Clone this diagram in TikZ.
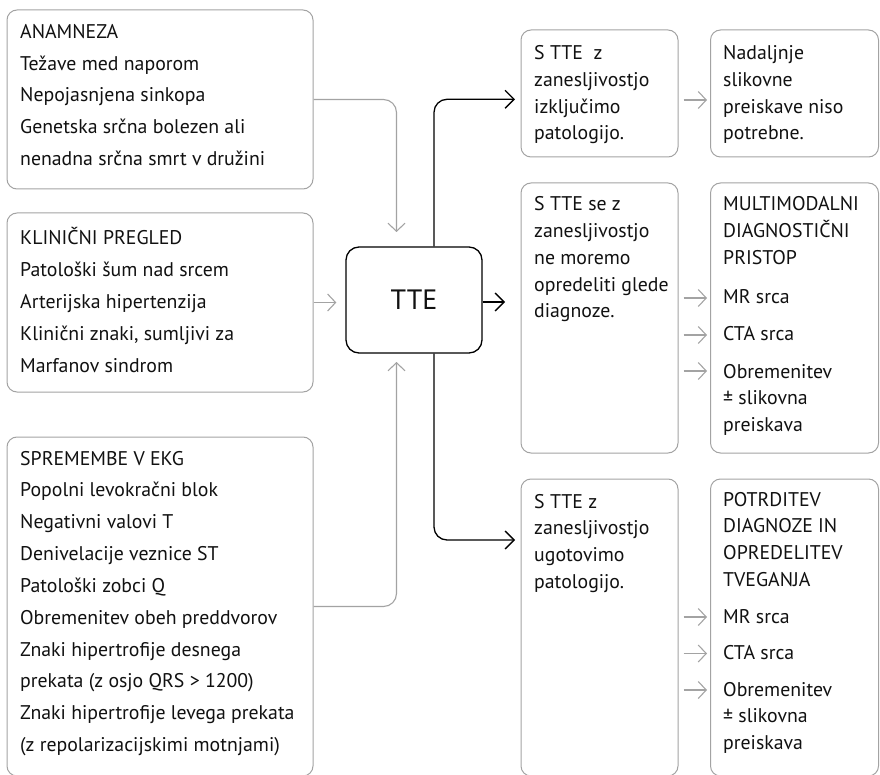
\documentclass[tikz,border=0pt]{standalone}
\usepackage{fontspec}
\setmainfont{PT Sans}
\usetikzlibrary{arrows.meta,calc}
\definecolor{lg}{HTML}{A3A3A3}
\definecolor{tx}{HTML}{111111}
\begin{document}
\begin{tikzpicture}[x=1pt,y=-1pt,
  box/.style={draw=lg, line width=1pt, rounded corners=10pt, fill=white, inner sep=0pt},
  tbox/.style={draw=black, line width=1.3pt, rounded corners=13pt, fill=white, inner sep=0pt, text=tx, font=\fontsize{28}{30}\selectfont},
  txt/.style={anchor=base west, inner sep=0pt, text=tx, font=\fontsize{19.8}{22}\selectfont},
  garrow/.style={draw=lg, line width=1.1pt, -{Straight Barb[length=8pt,width=17pt]}},
  barrow/.style={draw=black, line width=1.3pt, -{Straight Barb[length=9pt,width=18pt]}}]
\useasboundingbox (0,0) rectangle (880,775);
\clip (0,0) rectangle (880,775);

% left boxes
\node[box, minimum width=306pt, minimum height=179pt] (anam) at (160,99.5) {};
\node[box, minimum width=306pt, minimum height=179pt] (klin) at (160,302.5) {};
\node[box, minimum width=306pt, minimum height=339pt] (ekg) at (160,606.5) {};

% TTE
\node[tbox, minimum width=136pt, minimum height=106pt] (tte) at (414,300) {TTE};

% right boxes
\node[box, minimum width=157pt, minimum height=127pt] (a) at (599.5,93.5) {};
\node[box, minimum width=168pt, minimum height=127pt] (b) at (794.5,93.5) {};
\node[box, minimum width=157pt, minimum height=270pt] (c) at (599.5,318) {};
\node[box, minimum width=168pt, minimum height=270pt] (d) at (794.5,318) {};
\node[box, minimum width=157pt, minimum height=297pt] (e) at (599.5,627.5) {};
\node[box, minimum width=168pt, minimum height=297pt] (f) at (794.5,627.5) {};

% left texts
\foreach \t [count=\i from 0] in {ANAMNEZA, Težave med naporom, Nepojasnjena sinkopa, Genetska srčna bolezen ali, nenadna srčna smrt v družini}
  \node[txt] (anam-\i) at (20,{38.3+31.75*\i}) {\t};
\foreach \t [count=\i from 0] in {KLINIČNI PREGLED, Patološki šum nad srcem, Arterijska hipertenzija, {Klinični znaki, sumljivi za}, Marfanov sindrom}
  \node[txt] (klin-\i) at (20,{245+31.75*\i}) {\t};
\foreach \t [count=\i from 0] in {SPREMEMBE V EKG, Popolni levokračni blok, Negativni valovi T, Denivelacije veznice ST, Patološki zobci Q, Obremenitev obeh preddvorov, Znaki hipertrofije desnega, {prekata (z osjo QRS > 1200)}, Znaki hipertrofije levega prekata, {(z repolarizacijskimi motnjami)}}
  \node[txt] (ekg-\i) at (20,{465+31.85*\i}) {\t};

% right texts
\foreach \yy/\t [count=\i] in {60/{S TTE\ \ z}, 86.7/zanesljivostjo, 113.3/izključimo, 140/patologijo.}
  \node[txt] (a-\i) at (534,\yy) {\t};
\foreach \yy/\t [count=\i] in {60/Nadaljnje, 86.7/slikovne, 113.3/preiskave niso, 140/potrebne.}
  \node[txt] (b-\i) at (723,\yy) {\t};
\foreach \yy/\t [count=\i] in {211/S TTE se z, 237.7/zanesljivostjo, 264.4/ne moremo, 291.1/opredeliti glede, 317.8/diagnoze.}
  \node[txt] (c-\i) at (534,\yy) {\t};
\foreach \yy/\t [count=\i] in {211/MULTIMODALNI, 237.7/DIAGNOSTIČNI, 264.4/PRISTOP, 304/MR srca, 341/CTA srca, 378/Obremenitev, 404.7/± slikovna, 431.4/preiskava}
  \node[txt] (d-\i) at (723,\yy) {\t};
\foreach \yy/\t [count=\i] in {508/S TTE z, 534.7/zanesljivostjo, 561.4/ugotovimo, 588/patologijo.}
  \node[txt] (e-\i) at (534,\yy) {\t};
\foreach \yy/\t [count=\i] in {506/POTRDITEV, 532.7/DIAGNOZE IN, 559.4/OPREDELITEV, 586/TVEGANJA, 623/MR srca, 659.5/CTA srca, 696/Obremenitev, 722.7/± slikovna, 749.4/preiskava}
  \node[txt] (f-\i) at (723,\yy) {\t};

% left connectors
\coordinate (inTop) at (396.5,232);
\coordinate (inBot) at (396.5,362);
\draw[garrow, rounded corners=13pt] (anam.east) -| (inTop);
\draw[garrow, shorten >=9pt] (klin.east) -- (klin.east -| tte.west);
\draw[garrow, rounded corners=13pt] (ekg.east) -| (inBot);

% black connectors
\coordinate (vx) at (434,0);
\coordinate (outTop) at (515,99.3);
\coordinate (outBot) at (515,540);
\coordinate (outMid) at (505,302);
\draw[barrow, rounded corners=13pt] (tte.north -| vx) |- (outTop);
\draw[barrow, rounded corners=13pt] (tte.south -| vx) |- (outBot);
\draw[barrow] (tte.east |- outMid) -- (outMid);

% small grey arrows
\coordinate (s0) at (0,100);
\draw[garrow, shorten <=5pt, shorten >=3pt] (a.east |- s0) -- (b.west |- s0);
\foreach \yy [count=\k] in {298,335,371} {
  \coordinate (cd\k) at (0,\yy);
  \draw[garrow, shorten <=5pt, shorten >=3pt] (c.east |- cd\k) -- (d.west |- cd\k);
}
\foreach \yy [count=\k] in {617,653.5,690} {
  \coordinate (ef\k) at (0,\yy);
  \draw[garrow, shorten <=5pt, shorten >=3pt] (e.east |- ef\k) -- (f.west |- ef\k);
}
\end{tikzpicture}
\end{document}
